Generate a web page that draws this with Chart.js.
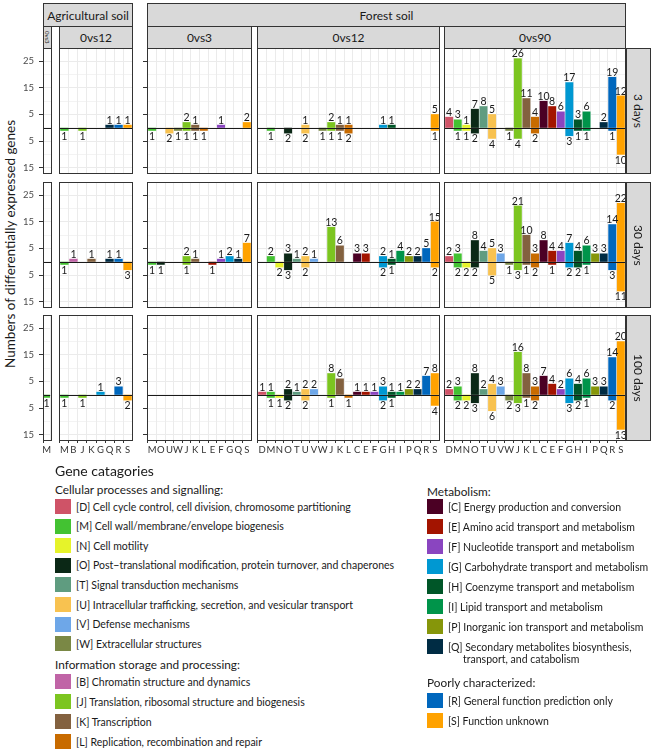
<!DOCTYPE html>
<html lang="en">
<head>
<meta charset="UTF-8">
<title>Differentially expressed genes by COG category</title>
<script src="https://cdn.jsdelivr.net/npm/chart.js"></script>
<style>
  body { margin: 0; width: 652px; height: 752px; position: relative; overflow: hidden; background: #fff;
         font-family: Lato, "Open Sans", sans-serif; color: #1a1a1a; }
  canvas { position: absolute; }
  .strip { position: absolute; box-sizing: border-box; background: #d9d9d9; border: 1px solid #333;
           display: flex; align-items: center; justify-content: center; font-size: 12px; color: #1a1a1a; }
  .vert { writing-mode: vertical-rl; }
  .frame { position: absolute; box-sizing: border-box; border: 1px solid #333; pointer-events: none; }
  .ytick { position: absolute; width: 20px; text-align: right; font-size: 9.5px; line-height: 10px; color: #4d4d4d; }
  .ytitle { position: absolute; width: 320px; text-align: center; font-size: 13.5px; transform: rotate(-90deg); }
  .lg-title { position: absolute; font-size: 14px; }
  .lg-head { position: absolute; font-size: 11.8px; }
  .lg-item { position: absolute; font-size: 10.5px; line-height: 12.5px; white-space: nowrap; }
  .lg-item i { position: absolute; width: 16px; height: 15px; left: -21px; top: -1.5px; }
</style>
</head>
<body>

<div class="ytitle" style="left:-150px; top:236px;">Numbers of differentially expressed genes</div>

<script>
const _ = null;
const rowNames = ['3 days', '30 days', '100 days'];

// categories per comparison
const catsA03 = ['M'];
const catsA12 = ['M', 'B', 'J', 'K', 'G', 'Q', 'R', 'S'];
const catsF03 = ['M', 'O', 'U', 'W', 'J', 'K', 'L', 'E', 'F', 'G', 'Q', 'S'];
const catsF12 = ['D', 'M', 'N', 'O', 'T', 'U', 'V', 'W', 'J', 'K', 'L', 'C', 'E', 'F', 'G', 'H', 'I', 'P', 'Q', 'R', 'S'];
const catsF90 = ['D', 'M', 'N', 'O', 'T', 'U', 'V', 'W', 'J', 'K', 'L', 'C', 'E', 'F', 'G', 'H', 'I', 'P', 'Q', 'R', 'S'];

// up / down regulated counts, one row per time point (3, 30, 100 days)
const upA03 = [[_], [_], [_]];
const downA03 = [[_], [_], [1]];

const upA12 = [
  [_, _, _, _, _, 1, 1, 1],
  [_, 1, _, 1, _, 1, 1, _],
  [_, _, _, _, 1, _, 3, _]
];
const downA12 = [
  [1, _, 1, _, _, _, _, _],
  [1, _, _, _, _, _, _, 3],
  [1, _, 1, _, _, _, _, 2]
];

const upF03 = [
  [_, _, _, _, 2, 1, _, _, 1, _, _, 2],
  [_, _, _, _, 2, 1, _, _, 1, 2, 1, 7],
  [_, _, _, _, _, _, _, _, _, _, _, _]
];
const downF03 = [
  [1, _, 2, 1, 1, 1, 1, _, _, _, _, _],
  [1, 1, _, _, 1, _, _, 1, _, _, _, _],
  [_, _, _, _, _, _, _, _, _, _, _, _]
];

//            D  M  N  O  T  U  V  W  J   K  L  C  E  F  G  H  I  P  Q  R  S
const upF12 = [
  [_, _, _, _, _, 1, _, _, 2, 1, 1, _, _, _, 1, 1, _, _, _, _, 5],
  [_, 2, _, 3, 1, 2, 1, _, 13, 6, _, 3, 3, _, 2, 1, 4, 2, 2, 5, 15],
  [1, 1, _, 2, 1, 2, 2, _, 8, 6, _, 1, 1, 1, 3, 1, 1, 2, 2, 7, 8]
];
const downF12 = [
  [_, 1, _, 2, _, 2, _, 1, 1, 1, 2, _, _, _, _, _, _, _, _, _, 1],
  [_, _, 2, 3, _, 2, _, _, _, _, _, _, _, _, 2, 1, _, _, _, _, 2],
  [_, 1, 1, 2, _, 2, _, _, 1, _, 1, _, _, _, 2, 1, _, _, _, _, 4]
];

const upF90 = [
  [4, 3, 1, 7, 8, 5, _, _, 26, 11, 4, 10, 8, 6, 17, 3, 6, _, 2, 19, 12],
  [2, 3, _, 8, 4, 5, 3, _, 21, 10, 3, 8, 4, 4, 7, 4, 6, 3, 3, 14, 22],
  [2, 3, _, 8, 2, 4, 3, _, 16, 8, 3, 7, 4, 2, 6, 4, 6, 3, 3, 14, 20]
];
const downF90 = [
  [_, 1, 1, 2, _, 4, _, 1, 4, _, 2, _, _, _, 3, 1, 1, _, _, 1, 10],
  [_, 2, 2, 2, _, 5, _, 1, 3, 1, 2, _, 1, _, 2, 2, 1, _, _, 3, 11],
  [_, 2, 2, 3, _, 6, _, 2, 3, 1, 2, _, _, _, 3, 2, 1, _, _, 2, 13]
];

const yLabelled = [-15, -5, 5, 15, 25];
const yGrid = [-17, -15, -10, -5, 0, 5, 10, 15, 20, 25, 30];

const catColors = {
  D: '#cf5367', M: '#43c232', N: '#e6f32a', O: '#0b2816', T: '#5f9c80', U: '#f8c250', V: '#6ea7e8',
  W: '#7a8845', B: '#c064a6', J: '#7cc520', K: '#83613f', L: '#c86b00', C: '#4b0024', E: '#a31400',
  F: '#8a45c0', G: '#0098d2', H: '#005628', I: '#00944a', P: '#86960a', Q: '#002c44', R: '#0067bd', S: '#ffa200'
};

// panel geometry (px)
const colX = [[43, 52], [59, 133], [147, 252], [257, 440], [444, 626]];
const rowY = [[48, 173], [182, 307], [315, 440]];

const panels = [
  { cats: catsA03, up: upA03, down: downA03, strip: '0vs3', vert: true },
  { cats: catsA12, up: upA12, down: downA12, strip: '0vs12' },
  { cats: catsF03, up: upF03, down: downF03, strip: '0vs3' },
  { cats: catsF12, up: upF12, down: downF12, strip: '0vs12' },
  { cats: catsF90, up: upF90, down: downF90, strip: '0vs90' }
];

Chart.defaults.font.family = 'Lato, "Open Sans", sans-serif';

const tickVal = ctx => (ctx && ctx.tick) ? ctx.tick.value : NaN;

const valueLabels = {
  id: 'valueLabels',
  afterDatasetsDraw(chart) {
    const { ctx, chartArea, scales: { y } } = chart;
    ctx.save();
    // zero line on top of bars
    const y0 = Math.round(y.getPixelForValue(0)) + 0.5;
    ctx.strokeStyle = '#1a1a1a';
    ctx.lineWidth = 1;
    ctx.beginPath();
    ctx.moveTo(chartArea.left, y0);
    ctx.lineTo(chartArea.right, y0);
    ctx.stroke();
    ctx.font = '10.5px Lato, "Open Sans", sans-serif';
    ctx.fillStyle = '#1a1a1a';
    ctx.textAlign = 'center';
    chart.data.datasets.forEach((ds, i) => {
      chart.getDatasetMeta(i).data.forEach((bar, j) => {
        const v = ds.data[j].y;
        if (v == null) return;
        if (v > 0) {
          ctx.textBaseline = 'bottom';
          ctx.fillText(String(v), bar.x, bar.y + 0.5);
        } else {
          ctx.textBaseline = 'top';
          ctx.fillText(String(-v), bar.x, bar.y + 0.5);
        }
      });
    });
    ctx.restore();
  }
};

function addDiv(cls, left, top, w, h, text) {
  const d = document.createElement('div');
  d.className = cls;
  Object.assign(d.style, { left: left + 'px', top: top + 'px', width: w + 'px', height: h + 'px' });
  if (text) d.textContent = text;
  document.body.appendChild(d);
  return d;
}

function makePanel(p, c, r) {
  const leftAxis = c === 0 ? 23 : (c === 2 ? 4 : 0);
  const bottomAxis = r === 2 ? 17 : 0;
  const [y0, y1] = rowY[r];
  const x0 = colX[c][0] - leftAxis;
  const n = p.cats.length;
  const unit = (colX[c][1] - colX[c][0]) / (n + 0.2);
  const xTicks = [-0.6, ...p.cats.map((k, i) => i), n - 0.4];

  const cv = document.createElement('canvas');
  cv.width = colX[c][1] - x0;
  cv.height = y1 - y0 + bottomAxis;
  cv.style.left = x0 + 'px';
  cv.style.top = y0 + 'px';
  document.body.appendChild(cv);
  const colors = p.cats.map(k => catColors[k]);

  const chart = new Chart(cv, {
    type: 'bar',
    data: {
      datasets: [
        { data: p.up[r].map((v, i) => ({ x: i, y: v })), backgroundColor: colors },
        { data: p.down[r].map((v, i) => ({ x: i, y: v == null ? null : -v })), backgroundColor: colors }
      ]
    },
    options: {
      responsive: false,
      animation: false,
      layout: { padding: 0 },
      plugins: { legend: { display: false }, tooltip: { enabled: false } },
      datasets: { bar: { barThickness: unit * 0.85, borderWidth: 0 } },
      scales: {
        x: {
          type: 'linear',
          min: -0.6,
          max: n - 0.4,
          stacked: true,
          offset: false,
          border: { display: false },
          afterBuildTicks: s => { s.ticks = xTicks.map(v => ({ value: v })); },
          grid: {
            color: '#ebebeb', lineWidth: 1, drawTicks: r === 2, tickLength: 3,
            tickColor: ctx => { const v = tickVal(ctx); return Number.isInteger(v) && v >= 0 ? '#333' : 'rgba(0,0,0,0)'; }
          },
          ticks: {
            display: r === 2, padding: 1, autoSkip: false, maxRotation: 0, minRotation: 0,
            color: '#333', font: { size: 9.5 },
            callback: v => (Number.isInteger(v) && v >= 0 && v < n) ? p.cats[v] : null
          },
          afterFit: s => { s.height = bottomAxis; }
        },
        y: {
          stacked: true,
          min: -17,
          max: 30,
          border: { display: false },
          afterBuildTicks: s => { s.ticks = yGrid.map(v => ({ value: v })); },
          grid: {
            color: '#ebebeb',
            lineWidth: ctx => yLabelled.includes(tickVal(ctx)) ? 1 : 0.6,
            drawTicks: leftAxis > 0,
            tickLength: 4,
            tickColor: ctx => yLabelled.includes(tickVal(ctx)) ? '#333' : 'rgba(0,0,0,0)'
          },
          ticks: { display: false },
          afterFit: s => { s.width = leftAxis; }
        }
      }
    },
    plugins: [valueLabels]
  });

  // y tick labels for the first column, placed through the chart's own y scale
  if (c === 0) {
    yLabelled.forEach(v => {
      const d = addDiv('ytick', x0 - 6, y0 + chart.scales.y.getPixelForValue(v) - 5, 20, 10, String(Math.abs(v)));
      d.style.height = '10px';
    });
  }

  addDiv('frame', colX[c][0], y0, colX[c][1] - colX[c][0], y1 - y0 + 1);
}

// strips
addDiv('strip', 43, 3, 90, 24, 'Agricultural soil');
addDiv('strip', 147, 3, 479, 24, 'Forest soil');
panels.forEach((p, c) => {
  const s = addDiv('strip' + (p.vert ? ' vert' : ''), colX[c][0], 26, colX[c][1] - colX[c][0], 23, p.strip);
  if (p.vert) s.style.fontSize = '6px';
  rowY.forEach((_r, r) => makePanel(p, c, r));
});
rowY.forEach(([y0, y1], r) => {
  addDiv('strip vert', 626, y0, 25, y1 - y0 + 1, rowNames[r]);
});

// legend
const legCellular = [
  ['D', 'Cell cycle control, cell division, chromosome partitioning'],
  ['M', 'Cell wall/membrane/envelope biogenesis'],
  ['N', 'Cell motility'],
  ['O', 'Post\u2212translational modification, protein turnover, and chaperones'],
  ['T', 'Signal transduction mechanisms'],
  ['U', 'Intracellular trafficking, secretion, and vesicular transport'],
  ['V', 'Defense mechanisms'],
  ['W', 'Extracellular structures']
];
const legInfo = [
  ['B', 'Chromatin structure and dynamics'],
  ['J', 'Translation, ribosomal structure and biogenesis'],
  ['K', 'Transcription'],
  ['L', 'Replication, recombination and repair']
];
const legMetab = [
  ['C', 'Energy production and conversion'],
  ['E', 'Amino acid transport and metabolism'],
  ['F', 'Nucleotide transport and metabolism'],
  ['G', 'Carbohydrate transport and metabolism'],
  ['H', 'Coenzyme transport and metabolism'],
  ['I', 'Lipid transport and metabolism'],
  ['P', 'Inorganic ion transport and metabolism'],
  ['Q', 'Secondary metabolites biosynthesis,\ntransport, and catabolism']
];
const legPoor = [
  ['R', 'General function prediction only'],
  ['S', 'Function unknown']
];

function legendText(cls, x, yc, text) {
  const d = document.createElement('div');
  d.className = cls;
  d.style.left = x + 'px';
  d.style.top = yc + 'px';
  d.style.transform = 'translateY(-50%)';
  d.textContent = text;
  document.body.appendChild(d);
}
function legendGroup(items, x, yStart, step) {
  items.forEach(([k, t], i) => {
    const d = document.createElement('div');
    d.className = 'lg-item';
    d.style.left = x + 'px';
    d.style.top = (yStart + i * step - 6.5) + 'px';
    const sw = document.createElement('i');
    sw.style.background = catColors[k];
    d.appendChild(sw);
    const lines = ('[' + k + '] ' + t).split('\n');
    lines.forEach((ln, li) => {
      if (li) {
        d.appendChild(document.createElement('br'));
        const sp = document.createElement('span');
        sp.style.paddingLeft = '15px';
        sp.textContent = ln;
        d.appendChild(sp);
      } else {
        d.appendChild(document.createTextNode(ln));
      }
    });
    document.body.appendChild(d);
  });
}

legendText('lg-title', 55, 470, 'Gene catagories');
legendText('lg-head', 55, 489, 'Cellular processes and signalling:');
legendGroup(legCellular, 76, 507, 19.6);
legendText('lg-head', 55, 664, 'Information storage and processing:');
legendGroup(legInfo, 76, 682, 20);
legendText('lg-head', 427, 491, 'Metabolism:');
legendGroup(legMetab, 448, 507, 20);
legendText('lg-head', 427, 682, 'Poorly characterized:');
legendGroup(legPoor, 448, 701, 20);
</script>
</body>
</html>
